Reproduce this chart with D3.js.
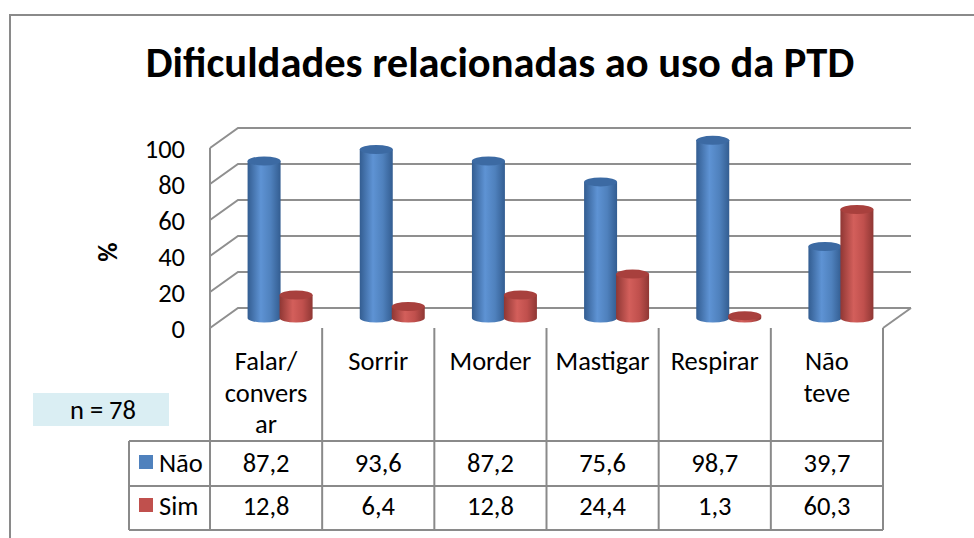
<!DOCTYPE html>
<html><head><meta charset="utf-8">
<script src="https://cdn.jsdelivr.net/npm/d3@7"></script>
<style>
html,body{margin:0;padding:0;background:#fff;}
svg{display:block;}
text{font-family:Carlito,Lato,"Open Sans",sans-serif;fill:#000;}
</style></head>
<body>
<svg id="c" width="974" height="538"></svg>
<script>
// ---- data ----
const title = "Dificuldades relacionadas ao uso da PTD";
const categories = ["Falar/ conversar","Sorrir","Morder","Mastigar","Respirar","Não teve"];
const categoryLines = [["Falar/","convers","ar"],["Sorrir"],["Morder"],["Mastigar"],["Respirar"],["Não","teve"]];
const seriesNames = ["Não","Sim"];
const naoValues = [87.2,93.6,87.2,75.6,98.7,39.7];
const simValues = [12.8,6.4,12.8,24.4,1.3,60.3];
const yTicks = [0,20,40,60,80,100];
const yAxisTitle = "%";
const note = "n = 78";

const colors = {"Não":{base:"#4F81BD",dark:"#335D91",light:"#5E93D4",top:"#3C6AA3"},
                "Sim":{base:"#C0504D",dark:"#8F3734",light:"#D35F5B",top:"#A8403D"}};

const svg = d3.select("#c");
const defs = svg.append("defs");
Object.entries(colors).forEach(([k,c],i)=>{
  const g = defs.append("linearGradient").attr("id","g"+i).attr("x1","0%").attr("x2","100%").attr("y1","0").attr("y2","0");
  g.append("stop").attr("offset","0%").attr("stop-color",c.dark);
  g.append("stop").attr("offset","40%").attr("stop-color",c.light);
  g.append("stop").attr("offset","70%").attr("stop-color",c.base);
  g.append("stop").attr("offset","100%").attr("stop-color",c.dark);
});

const fs = 26.5;

// frame
svg.append("rect").attr("x",10).attr("y",15).attr("width",1000).attr("height",600)
  .attr("fill","none").attr("stroke","#8a8a8a").attr("stroke-width",2);

// title
svg.append("text").attr("x",500).attr("y",77).attr("text-anchor","middle")
  .attr("font-weight","bold").attr("font-size",42.5).text(title);

// geometry
const frontY = 328, frontL = 210, frontR = 883;
const depthX = 28, depthY = -20;
const x = d3.scaleBand().domain(categories).range([frontL, frontR]);
const h = d3.scaleLinear().domain([0,100]).range([0,180]);
const gridColor = "#8f8f8f";

const grid = svg.append("g").attr("stroke",gridColor).attr("stroke-width",2).attr("fill","none");
yTicks.forEach(t=>{
  const yf = frontY - h(t), yb = frontY + depthY - h(t);
  grid.append("path").attr("d",`M${frontL},${yf}L${frontL+depthX},${yb}L${frontR+depthX},${yb}`);
});
grid.append("path").attr("d",`M${frontR},${frontY}L${frontR+depthX},${frontY+depthY}`);
grid.append("path").attr("d",`M${frontL},${frontY}L${frontL},${frontY-h(100)}`);

// y labels
svg.append("g").selectAll("text").data(yTicks).join("text")
  .attr("x",185).attr("y",t=>frontY - h(t) + 10).attr("text-anchor","end")
  .attr("font-size",fs).text(d=>d);

// axis title
svg.append("text").attr("transform","translate(117,252) rotate(-90)")
  .attr("text-anchor","middle").attr("font-weight","bold").attr("font-size",fs).text(yAxisTitle);

// cylinders
const rx = 16.5, ry = 4.5;
const midDX = depthX/2, midDY = depthY/2;
const baseY = frontY + midDY;
const series = [{name:"Não",vals:naoValues,off:-16,gi:0},{name:"Sim",vals:simValues,off:16,gi:1}];
const cylG = svg.append("g");
categories.forEach((cat,i)=>{
  series.forEach(s=>{
    const cx = x(cat) + x.bandwidth()/2 + midDX + s.off;
    const top = baseY - h(s.vals[i]);
    const c = colors[s.name];
    cylG.append("path")
      .attr("d",`M${cx-rx},${top}L${cx-rx},${baseY}A${rx},${ry} 0 0 0 ${cx+rx},${baseY}L${cx+rx},${top}Z`)
      .attr("fill",`url(#g${s.gi})`);
    cylG.append("ellipse").attr("cx",cx).attr("cy",top).attr("rx",rx).attr("ry",ry).attr("fill",c.top);
  });
});

// data table
const lineC = "#8a8a8a";
const tbl = svg.append("g");
const headTop = frontY, headBot = 441, row1Bot = 486, row2Bot = 530, legL = 129;
const tl = tbl.append("g").attr("stroke",lineC).attr("stroke-width",2).attr("fill","none");
categories.forEach(c=>{
  tl.append("line").attr("x1",x(c)).attr("x2",x(c)).attr("y1",headTop).attr("y2",row2Bot);
});
tl.append("line").attr("x1",frontR).attr("x2",frontR).attr("y1",headTop).attr("y2",row2Bot);
tl.append("line").attr("x1",legL).attr("x2",legL).attr("y1",headBot).attr("y2",row2Bot);
[headBot,row1Bot,row2Bot].forEach(yy=>{
  tl.append("line").attr("x1",legL).attr("x2",frontR).attr("y1",yy).attr("y2",yy);
});
categories.forEach((c,i)=>{
  categoryLines[i].forEach((ln,j)=>{
    tbl.append("text").attr("x",x(c)+x.bandwidth()/2).attr("y",370+j*31.5)
      .attr("text-anchor","middle").attr("font-size",fs).text(ln);
  });
});
const fmt = v=>v.toFixed(1).replace(".",",");
const rowsY = [472,515];
[naoValues,simValues].forEach((vals,r)=>{
  categories.forEach((c,i)=>{
    tbl.append("text").attr("x",x(c)+x.bandwidth()/2).attr("y",rowsY[r])
      .attr("text-anchor","middle").attr("font-size",fs).text(fmt(vals[i]));
  });
  tbl.append("rect").attr("x",139).attr("y",rowsY[r]-17).attr("width",14).attr("height",14)
    .attr("fill",colors[seriesNames[r]].base);
  tbl.append("text").attr("x",159).attr("y",rowsY[r]).attr("font-size",fs).text(seriesNames[r]);
});

// note box
svg.append("rect").attr("x",33).attr("y",393).attr("width",136).attr("height",33).attr("fill","#DAEEF3");
svg.append("text").attr("x",103).attr("y",419).attr("text-anchor","middle").attr("font-size",fs).text(note);
</script>
</body></html>
